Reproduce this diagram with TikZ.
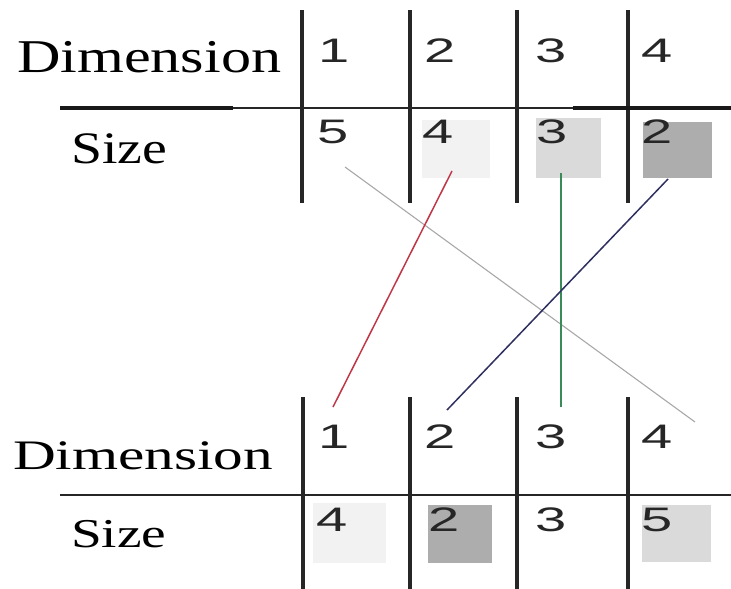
\documentclass[tikz,border=0pt]{standalone}
\usepackage{fontspec}
\setmainfont{Liberation Serif}
\newfontfamily\digfont{Liberation Sans}
\definecolor{cellA}{HTML}{F2F2F2}
\definecolor{cellB}{HTML}{DADADA}
\definecolor{cellC}{HTML}{ADADAD}
\definecolor{redl}{HTML}{C03848}
\definecolor{grayl}{HTML}{A8A8A8}
\definecolor{greenl}{HTML}{3A8A5A}
\definecolor{bluel}{HTML}{2E3060}
\tikzset{
  vrule/.style={line width=3.2pt, black!85},
  hrule/.style={line width=2.8pt, black!85},
  hthick/.style={line width=4.5pt, black!90},
  lbl/.style={anchor=base west, inner sep=0pt},
  dig/.style={anchor=base west, inner sep=0pt, font=\digfont\fontsize{34}{38}\selectfont, text=black!85},
  conn/.style={line width=1.5pt}
}
\newcommand{\wide}[2]{\scalebox{#1}[1]{#2}}
\newcommand{\dwide}[1]{\scalebox{1.65}[1]{#1}}
\begin{document}
\begin{tikzpicture}[x=1pt,y=-1pt]
\useasboundingbox (0,0) rectangle (731,589);
% cells top
\fill[cellA] (422,120) rectangle (490,178);
\fill[cellB] (536,118) rectangle (601,178);
\fill[cellC] (643,122) rectangle (712,178);
% cells bottom
\fill[cellA] (313,503) rectangle (386,563);
\fill[cellC] (428,505) rectangle (492,563);
\fill[cellB] (642,505) rectangle (711,562);
% top table rules
\foreach \x/\n in {302/a,410/b,517/c,628/d}{
  \coordinate (tt\n) at (\x,10); \coordinate (tb\n) at (\x,203);
  \draw[vrule] (tt\n) -- (tb\n);
}
\coordinate (thl) at (60,108); \coordinate (thm1) at (233,108);
\coordinate (thm2) at (573,108); \coordinate (thr) at (731,108);
\draw[hrule] (thl) -- (thr);
\draw[hthick] (thl) -- (thm1);
\draw[hthick] (thm2) -- (thr);
% bottom table rules
\foreach \x/\n in {303/a,410/b,517/c,628/d}{
  \coordinate (bt\n) at (\x,397); \coordinate (bb\n) at (\x,589);
  \draw[vrule] (bt\n) -- (bb\n);
}
\coordinate (bhl) at (60,495); \coordinate (bhr) at (731,495);
\draw[hrule] (bhl) -- (bhr);
% labels
\node[lbl, font=\fontsize{47}{50}\selectfont] (dimT) at (17,72) {\wide{1.28}{Dimension}};
\node[lbl, font=\fontsize{45}{50}\selectfont] (sizeT) at (71,163) {\wide{1.24}{Size}};
\node[lbl, font=\fontsize{42}{50}\selectfont] (dimB) at (13,469) {\wide{1.41}{Dimension}};
\node[lbl, font=\fontsize{41}{50}\selectfont] (sizeB) at (71,547) {\wide{1.35}{Size}};
% digits top
\node[dig] (td1) at (318,62) {\dwide{1}};
\node[dig] (td2) at (424,62) {\dwide{2}};
\node[dig] (td3) at (535,62) {\dwide{3}};
\node[dig] (td4) at (641,62) {\dwide{4}};
\node[dig] (ts1) at (317,143) {\dwide{5}};
\node[dig] (ts2) at (422,143) {\dwide{4}};
\node[dig] (ts3) at (536,143) {\dwide{3}};
\node[dig] (ts4) at (641,143) {\dwide{2}};
% digits bottom
\node[dig] (bd1) at (318,448) {\dwide{1}};
\node[dig] (bd2) at (424,448) {\dwide{2}};
\node[dig] (bd3) at (535,448) {\dwide{3}};
\node[dig] (bd4) at (641,448) {\dwide{4}};
\node[dig] (bs1) at (316,531) {\dwide{4}};
\node[dig] (bs2) at (428,531) {\dwide{2}};
\node[dig] (bs3) at (535,531) {\dwide{3}};
\node[dig] (bs4) at (641,531) {\dwide{5}};
% connectors
\coordinate (r1) at (452,171); \coordinate (r2) at (333,407);
\coordinate (g1) at (345,167); \coordinate (g2) at (695,422);
\coordinate (n1) at (561,173); \coordinate (n2) at (561,407);
\coordinate (b1) at (668,179); \coordinate (b2) at (447,410);
\draw[conn, grayl, line width=1.1pt] (g1) -- (g2);
\draw[conn, redl] (r1) -- (r2);
\draw[conn, greenl] (n1) -- (n2);
\draw[conn, bluel] (b1) -- (b2);
\end{tikzpicture}
\end{document}
